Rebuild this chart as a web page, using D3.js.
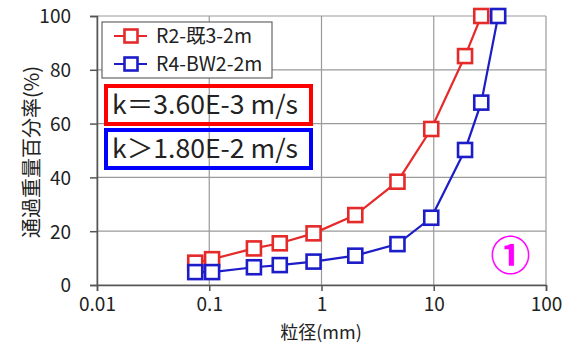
<!DOCTYPE html>
<html>
<head>
<meta charset="utf-8">
<script src="https://cdn.jsdelivr.net/npm/d3@7"></script>
<style>
  body { margin: 0; background: #fff; }
  text { font-family: "Noto Sans CJK JP", "Noto Sans", sans-serif; fill: #222; }
</style>
</head>
<body>
<script>
var W = 574, H = 345;

// sieve sizes (mm)
var sizesRed = [0.075, 0.106, 0.25, 0.425, 0.85, 2, 4.75, 9.5, 19, 26.5];
var passRed = [8.3, 9.6, 13.6, 15.5, 19.2, 26.0, 38.4, 58.0, 85.1, 100];
var sizesBlue = [0.075, 0.106, 0.25, 0.425, 0.85, 2, 4.75, 9.5, 19, 26.5, 37.5];
var passBlue = [4.8, 4.8, 6.6, 7.4, 8.7, 10.9, 15.2, 25.0, 50.2, 67.8, 100];

var seriesNames = ["R2-既3-2m", "R4-BW2-2m"];
var seriesColors = ["#e52a2a", "#1c1cc8"];
var xTicks = [0.01, 0.1, 1, 10, 100];
var yTicks = [0, 20, 40, 60, 80, 100];
var kTexts = ["k＝3.60E-3 m/s", "k＞1.80E-2 m/s"];

var margin = { top: 16, right: 28, bottom: 60, left: 97 };
var width = 546 - margin.left;
var height = 285 - margin.top;

var svg = d3.select("body").append("svg")
  .attr("width", W)
  .attr("height", H);

var g = svg.append("g")
  .attr("transform", `translate(${margin.left}, ${margin.top})`);

var x = d3.scaleLog().domain([0.01, 100]).range([0, width]);
var y = d3.scaleLinear().domain([0, 100]).range([height, 0]);

// grid
g.selectAll(".vgrid").data(xTicks).enter().append("line")
  .attr("x1", d => x(d)).attr("x2", d => x(d))
  .attr("y1", 0).attr("y2", height)
  .attr("stroke", "#9a9a9a").attr("stroke-width", 1.2);
g.selectAll(".hgrid").data(yTicks).enter().append("line")
  .attr("x1", 0).attr("x2", width)
  .attr("y1", d => y(d)).attr("y2", d => y(d))
  .attr("stroke", "#9a9a9a").attr("stroke-width", 1.2);

// axes
var bottomAxis = d3.axisBottom(x).tickValues(xTicks).tickFormat(d3.format("")).tickSize(6).tickPadding(7);
var leftAxis = d3.axisLeft(y).tickValues(yTicks).tickSize(7).tickPadding(19);

var gx = g.append("g").attr("transform", `translate(0, ${height})`).call(bottomAxis);
var gy = g.append("g").call(leftAxis);
[gx, gy].forEach(function(a) {
  a.select(".domain").attr("stroke", "#555").attr("stroke-width", 1.5);
  a.selectAll(".tick line").attr("stroke", "#555").attr("stroke-width", 1.5);
  a.selectAll(".tick text").style("font-size", "19px").attr("fill", "#222");
});
gy.selectAll(".tick text").attr("dy", "0.36em");

// series
var series = [
  sizesRed.map((s, i) => ({ s: s, p: passRed[i] })),
  sizesBlue.map((s, i) => ({ s: s, p: passBlue[i] }))
];

var line = d3.line().x(d => x(d.s)).y(d => y(d.p));

series.forEach(function(data, k) {
  g.append("path")
    .datum(data)
    .attr("d", line)
    .attr("fill", "none")
    .attr("stroke", seriesColors[k])
    .attr("stroke-width", 2.2);
  g.selectAll(".m" + k).data(data).enter().append("rect")
    .attr("x", d => x(d.s) - 7)
    .attr("y", d => y(d.p) - 7)
    .attr("width", 14).attr("height", 14)
    .attr("fill", "#fff")
    .attr("stroke", seriesColors[k])
    .attr("stroke-width", 2.6);
});

// legend
var leg = svg.append("g");
leg.append("rect")
  .attr("x", 102).attr("y", 22).attr("width", 170).attr("height", 56)
  .attr("fill", "#fff").attr("stroke", "#666").attr("stroke-width", 1.2);
seriesNames.forEach(function(n, i) {
  var ly = 36 + i * 28;
  leg.append("line").attr("x1", 114).attr("x2", 147).attr("y1", ly).attr("y2", ly)
    .attr("stroke", seriesColors[i]).attr("stroke-width", 2.2);
  leg.append("rect").attr("x", 124.5).attr("y", ly - 6.5).attr("width", 13).attr("height", 13)
    .attr("fill", "#fff").attr("stroke", seriesColors[i]).attr("stroke-width", 2.6);
  leg.append("text").attr("x", 156).attr("y", ly).attr("dy", "0.36em")
    .style("font-size", "19.5px").text(n);
});

// permeability boxes (transparent, grid shows through)
var boxColors = ["#ff0000", "#0000ff"];
kTexts.forEach(function(t, i) {
  var by = 86 + i * 44;
  svg.append("rect").attr("x", 106).attr("y", by).attr("width", 205).attr("height", 38)
    .attr("fill", "none").attr("stroke", boxColors[i]).attr("stroke-width", 4);
  svg.append("text").attr("x", 112).attr("y", by + 19).attr("dy", "0.36em")
    .attr("textLength", 186).attr("lengthAdjust", "spacingAndGlyphs")
    .style("font-size", "26px").attr("fill", "#111").text(t);
});

// circled number
svg.append("text").attr("x", 510.5).attr("y", 256).attr("dy", "0.36em")
  .attr("text-anchor", "middle").style("font-size", "40px").style("font-weight", "bold")
  .style("fill", "#ff00ff").text("①");

// axis titles
svg.append("text")
  .attr("transform", "translate(32, 152) rotate(-90)")
  .attr("text-anchor", "middle").attr("dy", "0.36em")
  .style("font-size", "20px").text("通過重量百分率(%)");

svg.append("text")
  .attr("x", 321).attr("y", 333).attr("dy", "0.36em")
  .attr("text-anchor", "middle")
  .style("font-size", "18px").text("粒径(mm)");
</script>
</body>
</html>
